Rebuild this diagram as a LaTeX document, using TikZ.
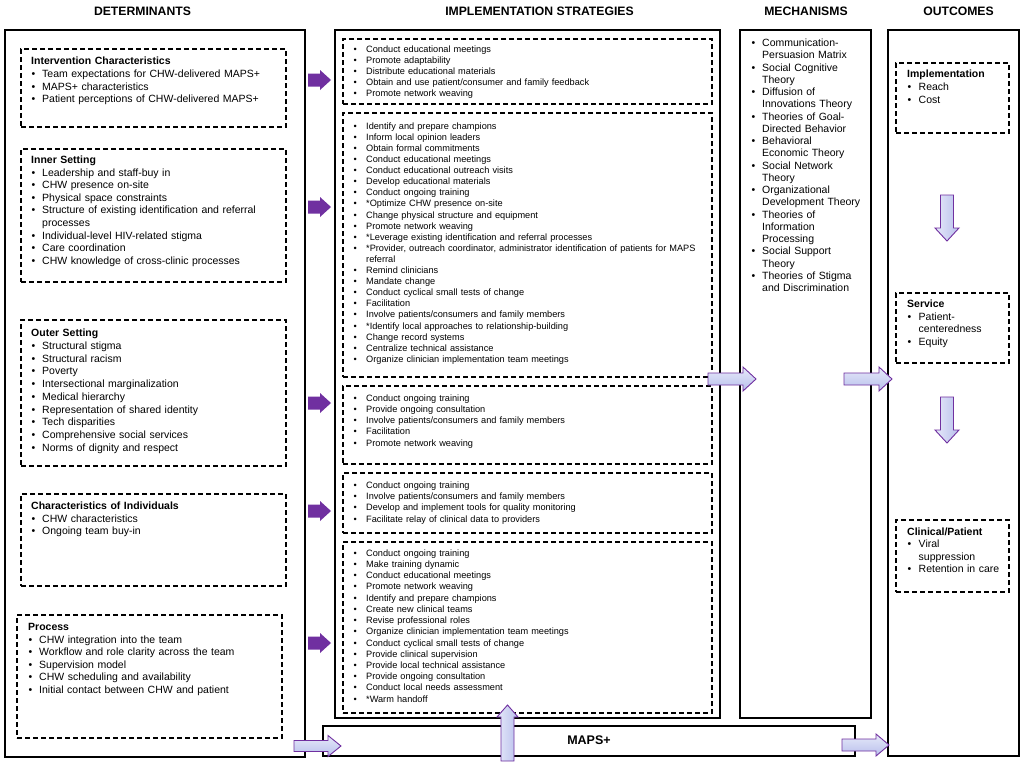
\documentclass[tikz,border=0pt]{standalone}
\usepackage{fontspec}
\setmainfont{Liberation Sans}
\definecolor{dpurple}{HTML}{7030A0}
\definecolor{lavA}{HTML}{E6E9F9}
\definecolor{lavB}{HTML}{B8BFEC}
\tikzset{
  outerbox/.style={draw=black, line width=1.3pt, inner sep=0pt},
  dbox/.style={draw=black, line width=1.2pt, dash pattern=on 5pt off 3pt, inner sep=0pt},
  txt/.style={anchor=base west, inner sep=0pt, text width=420pt, align=left},
  dtxt/.style={txt, font=\fontsize{10.5}{#1}\selectfont},
  itxt/.style={txt, font=\fontsize{9.2}{#1}\selectfont},
  head/.style={font=\fontsize{12.2}{14}\selectfont\bfseries, inner sep=0pt},
  darr/.style={fill=dpurple, draw=none},
  larrh/.style={draw=dpurple, line width=0.9pt, top color=lavA, bottom color=lavB},
  larrv/.style={draw=dpurple, line width=0.9pt, left color=lavA, right color=lavB},
}
\newcommand\rectnode[6]{\node[#2, minimum width={(#5-#3)*1pt}, minimum height={(#6-#4)*1pt}] (#1) at ({(#3+#5)/2},{(#4+#6)/2}) {};}
\newcommand\harr[7]{\draw[#1] (#2,{#4-#5}) -- ({#3-(#7)},{#4-#5}) -- ({#3-(#7)},{#4-#6}) -- (#3,#4) -- ({#3-(#7)},{#4+#6}) -- ({#3-(#7)},{#4+#5}) -- (#2,{#4+#5}) -- cycle;}
\newcommand\varr[7]{\draw[#1] ({#2-#5},#3) -- ({#2-#5},{#4-(#7)}) -- ({#2-#6},{#4-(#7)}) -- (#2,#4) -- ({#2+#6},{#4-(#7)}) -- ({#2+#5},{#4-(#7)}) -- ({#2+#5},#3) -- cycle;}
\newcommand\bdet{\makebox[11pt][l]{\hspace{0.5pt}•}}
\newcommand\cdet{\hspace*{11pt}}
\newcommand\bimp{\makebox[12.6pt][l]{•}}
\newcommand\bmech{\makebox[10.5pt][l]{•}}
\newcommand\cmech{\hspace*{10.5pt}}
\newcommand\bout{\makebox[11.5pt][l]{\hspace{0.5pt}•}}
\newcommand\cout{\hspace*{11.5pt}}
\begin{document}
\begin{tikzpicture}[x=1pt,y=-1pt]
\fill[white] (0,0) rectangle (1021,763);
\useasboundingbox (0,0) rectangle (1021,763);

% headers
\node[head] (hdet) at (142.5,11) {DETERMINANTS};
\node[head] (himp) at (539.5,11) {IMPLEMENTATION STRATEGIES};
\node[head] (hmech) at (806,11) {MECHANISMS};
\node[head] (hout) at (958.5,11) {OUTCOMES};

% outer boxes
\rectnode{det}{outerbox}{5}{30}{305}{757}
\rectnode{impl}{outerbox}{335}{30}{720}{718}
\rectnode{maps}{outerbox}{323}{726}{855}{756}
\rectnode{mech}{outerbox}{740}{30}{871}{718}
\rectnode{out}{outerbox}{888}{30}{1019}{756}
\node[font=\fontsize{12.5}{14}\selectfont\bfseries, inner sep=0pt] (mapslbl) at (589,740) {MAPS+};

% determinants dashed boxes
\rectnode{d1}{dbox}{21}{49}{286}{127}
\rectnode{d2}{dbox}{21}{149}{286}{282}
\rectnode{d3}{dbox}{21}{320}{286}{466}
\rectnode{d4}{dbox}{21}{494}{286}{586}
\rectnode{d5}{dbox}{17}{615}{282}{738}

\node[dtxt=12.8] (t1) at (31,64.5) {\textbf{Intervention Characteristics}\\
\bdet Team expectations for CHW-delivered MAPS+\\
\bdet MAPS+ characteristics\\
\bdet Patient perceptions of CHW-delivered MAPS+};

\node[dtxt=12.6] (t2) at (31,163.5) {\textbf{Inner Setting}\\
\bdet Leadership and staff-buy in\\
\bdet CHW presence on-site\\
\bdet Physical space constraints\\
\bdet Structure of existing identification and referral\\
\cdet processes\\
\bdet Individual-level HIV-related stigma\\
\bdet Care coordination\\
\bdet CHW knowledge of cross-clinic processes};

\node[dtxt=12.75] (t3) at (31,336.5) {\textbf{Outer Setting}\\
\bdet Structural stigma\\
\bdet Structural racism\\
\bdet Poverty\\
\bdet Intersectional marginalization\\
\bdet Medical hierarchy\\
\bdet Representation of shared identity\\
\bdet Tech disparities\\
\bdet Comprehensive social services\\
\bdet Norms of dignity and respect};

\node[dtxt=12.6] (t4) at (31,509.5) {\textbf{Characteristics of Individuals}\\
\bdet CHW characteristics\\
\bdet Ongoing team buy-in};

\node[dtxt=12.6] (t5) at (28,630.5) {\textbf{Process}\\
\bdet CHW integration into the team\\
\bdet Workflow and role clarity across the team\\
\bdet Supervision model\\
\bdet CHW scheduling and availability\\
\bdet Initial contact between CHW and patient};

% implementation dashed boxes
\rectnode{i1}{dbox}{343}{39}{712}{104}
\rectnode{i2}{dbox}{343}{113}{712}{377}
\rectnode{i3}{dbox}{343}{386}{712}{464}
\rectnode{i4}{dbox}{343}{473}{712}{533}
\rectnode{i5}{dbox}{343}{542}{712}{713}

\node[itxt=11.1] (s1) at (353.4,52.2) {\bimp Conduct educational meetings\\
\bimp Promote adaptability\\
\bimp Distribute educational materials\\
\bimp Obtain and use patient/consumer and family feedback\\
\bimp Promote network weaving};

\node[itxt=11.1] (s2) at (353.4,129.2) {\bimp Identify and prepare champions\\
\bimp Inform local opinion leaders\\
\bimp Obtain formal commitments\\
\bimp Conduct educational meetings\\
\bimp Conduct educational outreach visits\\
\bimp Develop educational materials\\
\bimp Conduct ongoing training\\
\bimp *Optimize CHW presence on-site\\
\bimp Change physical structure and equipment\\
\bimp Promote network weaving\\
\bimp *Leverage existing identification and referral processes\\
\bimp *Provider, outreach coordinator, administrator identification of patients for MAPS\\
\hspace*{12.6pt}referral\\
\bimp Remind clinicians\\
\bimp Mandate change\\
\bimp Conduct cyclical small tests of change\\
\bimp Facilitation\\
\bimp Involve patients/consumers and family members\\
\bimp *Identify local approaches to relationship-building\\
\bimp Change record systems\\
\bimp Centralize technical assistance\\
\bimp Organize clinician implementation team meetings};

\node[itxt=11.2] (s3) at (353.4,401.2) {\bimp Conduct ongoing training\\
\bimp Provide ongoing consultation\\
\bimp Involve patients/consumers and family members\\
\bimp Facilitation\\
\bimp Promote network weaving};

\node[itxt=11.3] (s4) at (353.4,488.2) {\bimp Conduct ongoing training\\
\bimp Involve patients/consumers and family members\\
\bimp Develop and implement tools for quality monitoring\\
\bimp Facilitate relay of clinical data to providers};

\node[itxt=11.23] (s5) at (353.4,556.2) {\bimp Conduct ongoing training\\
\bimp Make training dynamic\\
\bimp Conduct educational meetings\\
\bimp Promote network weaving\\
\bimp Identify and prepare champions\\
\bimp Create new clinical teams\\
\bimp Revise professional roles\\
\bimp Organize clinician implementation team meetings\\
\bimp Conduct cyclical small tests of change\\
\bimp Provide clinical supervision\\
\bimp Provide local technical assistance\\
\bimp Provide ongoing consultation\\
\bimp Conduct local needs assessment\\
\bimp *Warm handoff};

% mechanisms
\node[dtxt=12.25] (m1) at (751.5,46.5) {\bmech Communication-\\
\cmech Persuasion Matrix\\
\bmech Social Cognitive\\
\cmech Theory\\
\bmech Diffusion of\\
\cmech Innovations Theory\\
\bmech Theories of Goal-\\
\cmech Directed Behavior\\
\bmech Behavioral\\
\cmech Economic Theory\\
\bmech Social Network\\
\cmech Theory\\
\bmech Organizational\\
\cmech Development Theory\\
\bmech Theories of\\
\cmech Information\\
\cmech Processing\\
\bmech Social Support\\
\cmech Theory\\
\bmech Theories of Stigma\\
\cmech and Discrimination};

% outcomes dashed boxes
\rectnode{o1}{dbox}{896}{63}{1009}{133}
\rectnode{o2}{dbox}{896}{293}{1009}{363}
\rectnode{o3}{dbox}{896}{520}{1009}{592}

\node[dtxt=12.8] (u1) at (907,77.5) {\textbf{Implementation}\\
\bout Reach\\
\bout Cost};
\node[dtxt=12.7] (u2) at (907,307.5) {\textbf{Service}\\
\bout Patient-\\
\cout centeredness\\
\bout Equity};
\node[dtxt=12.4] (u3) at (907,535.5) {\textbf{Clinical/Patient}\\
\bout Viral\\
\cout suppression\\
\bout Retention in care};

% dark arrows determinants -> strategies
\harr{darr}{308}{331}{80}{6.5}{10}{11}
\harr{darr}{308}{331}{207}{6.5}{10}{11}
\harr{darr}{308}{331}{403}{6.5}{10}{11}
\harr{darr}{308}{331}{511}{6.5}{10}{11}
\harr{darr}{308}{331}{643}{6.5}{10}{11}

% light arrows
\harr{larrh}{294}{341}{746}{5.5}{10.5}{13}
\varr{larrv}{507.5}{761}{705}{6.5}{10.5}{-12}
\harr{larrh}{708}{756}{379}{6}{12}{13}
\harr{larrh}{844}{892}{379}{6}{12}{13}
\harr{larrh}{842}{889}{745}{6}{11}{13}
\varr{larrv}{947}{195}{241}{6.5}{12}{13}
\varr{larrv}{947}{397}{443}{6.5}{12}{13}
\end{tikzpicture}
\end{document}
